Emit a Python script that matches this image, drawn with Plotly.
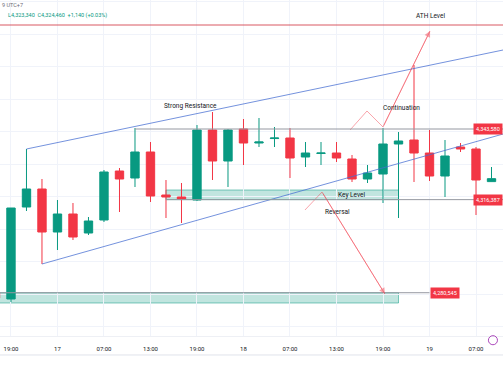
import plotly.graph_objects as go

# ---------------- data ----------------
times = [
    "2025-10-16 17:00", "2025-10-16 19:00", "2025-10-16 21:00", "2025-10-16 23:00",
    "2025-10-17 01:00", "2025-10-17 03:00", "2025-10-17 05:00", "2025-10-17 07:00",
    "2025-10-17 09:00", "2025-10-17 11:00", "2025-10-17 13:00", "2025-10-17 15:00",
    "2025-10-17 17:00", "2025-10-17 19:00", "2025-10-17 21:00", "2025-10-17 23:00",
    "2025-10-18 01:00", "2025-10-18 03:00", "2025-10-18 05:00", "2025-10-18 07:00",
    "2025-10-18 09:00", "2025-10-18 11:00", "2025-10-18 13:00", "2025-10-18 15:00",
    "2025-10-18 17:00", "2025-10-18 19:00", "2025-10-18 21:00", "2025-10-18 23:00",
    "2025-10-19 01:00", "2025-10-19 03:00", "2025-10-19 05:00", "2025-10-19 07:00",
    "2025-10-19 09:00",
]
opens = [4280440, 4278130, 4313550, 4320480, 4303925, 4310855, 4303540, 4308545,
         4327410, 4324715, 4334725, 4318170, 4317400, 4316245, 4343195, 4331260,
         4343580, 4338190, 4339900, 4340115, 4332800, 4334150, 4334340, 4332030,
         4324330, 4326255, 4337805, 4339345, 4334340, 4325485, 4336650, 4335880,
         4323320]
highs = [4280800, 4313165, 4335880, 4324330, 4316245, 4315090, 4309700, 4327795,
         4328565, 4343965, 4338575, 4323945, 4322790, 4345120, 4350125, 4343580,
         4347430, 4347815, 4344350, 4343965, 4338575, 4338575, 4338575, 4333570,
         4329720, 4343965, 4342425, 4368220, 4343195, 4339345, 4338190, 4336650,
         4328950]
lows = [4278130, 4276975, 4312010, 4291605, 4296995, 4300845, 4302770, 4307775,
        4311625, 4321250, 4315475, 4309315, 4307390, 4315860, 4323945, 4321250,
        4329720, 4336650, 4336650, 4324715, 4328950, 4329720, 4330875, 4323175,
        4322790, 4315090, 4309315, 4323175, 4323560, 4317400, 4334725, 4310470,
        4323340]
closes = [4278515, 4313165, 4320480, 4303925, 4310855, 4302000, 4308160, 4327025,
          4324330, 4334725, 4317785, 4317400, 4316630, 4343195, 4331260, 4343200,
          4338190, 4338575, 4340115, 4332415, 4334340, 4334340, 4332415, 4324330,
          4326640, 4337805, 4338960, 4334340, 4325485, 4333185, 4335880, 4323945,
          4324460]

tick_vals = ["2025-10-16 19:00", "2025-10-17 01:00", "2025-10-17 07:00", "2025-10-17 13:00",
             "2025-10-17 19:00", "2025-10-18 01:00", "2025-10-18 07:00", "2025-10-18 13:00",
             "2025-10-18 19:00", "2025-10-19 01:00", "2025-10-19 07:00"]
tick_text = ["19:00", "17", "07:00", "13:00", "19:00", "18", "07:00", "13:00", "19:00", "19", "07:00"]

ath_level = 4383620
resistance_level = 4343580
key_level = 4316387
key_zone_top = 4320095
support_level = 4280545
support_zone_bottom = 4276590

resistance_start = "2025-10-17 11:00"
key_start = "2025-10-17 15:00"
zone_end = "2025-10-18 21:00"
support_label_time = "2025-10-19 01:00"

upper_channel_t = ["2025-10-16 21:00", "2025-10-19 10:30"]
upper_channel_p = [4335880, 4374000]
lower_channel_t = ["2025-10-16 23:00", "2025-10-19 10:30"]
lower_channel_p = [4291605, 4341655]
reversal_t = ["2025-10-18 08:56", "2025-10-18 11:08", "2025-10-18 19:15"]
reversal_p = [4312395, 4319325, 4280055]
continuation_t = ["2025-10-18 14:45", "2025-10-18 16:56", "2025-10-18 19:00", "2025-10-19 01:04"]
continuation_p = [4343195, 4350510, 4344350, 4381310]

x_range = ["2025-10-16 17:35", "2025-10-19 10:29"]
y_range = [4263885, 4393245]

# ---------------- styles ----------------
GREEN = "#089981"
RED = "#f23645"
BLUE = "rgba(70,110,210,0.75)"
GRAY = "#9598a1"
PINK = "rgba(242,54,69,0.45)"
TEXT = "#131722"
FONT = "Roboto"

fig = go.Figure()

fig.add_trace(go.Candlestick(
    x=times, open=opens, high=highs, low=lows, close=closes,
    increasing=dict(line=dict(color=GREEN, width=1), fillcolor=GREEN),
    decreasing=dict(line=dict(color=RED, width=1), fillcolor=RED),
    whiskerwidth=0, showlegend=False, hoverinfo="skip",
))

# channel lines
fig.add_trace(go.Scatter(x=upper_channel_t, y=upper_channel_p, mode="lines",
                         line=dict(color=BLUE, width=1), showlegend=False, hoverinfo="skip"))
fig.add_trace(go.Scatter(x=lower_channel_t, y=lower_channel_p, mode="lines",
                         line=dict(color=BLUE, width=1), showlegend=False, hoverinfo="skip"))
# projection paths
fig.add_trace(go.Scatter(x=reversal_t, y=reversal_p, mode="lines",
                         line=dict(color=PINK, width=1), showlegend=False, hoverinfo="skip"))
fig.add_trace(go.Scatter(x=continuation_t, y=continuation_p, mode="lines",
                         line=dict(color=PINK, width=1), showlegend=False, hoverinfo="skip"))

shapes = [
    # ATH line
    dict(type="line", xref="paper", yref="y", x0=0, x1=1, y0=ath_level, y1=ath_level,
         line=dict(color="rgba(210,60,70,0.85)", width=1)),
    # strong resistance
    dict(type="line", xref="x", yref="y", x0=resistance_start, x1="2025-10-19 12:00",
         y0=resistance_level, y1=resistance_level, line=dict(color=GRAY, width=1)),
    # key level zone
    dict(type="rect", xref="x", yref="y", x0=key_start, x1=zone_end,
         y0=key_level, y1=key_zone_top, fillcolor="rgba(8,153,129,0.25)",
         line=dict(color="rgba(8,153,129,0.5)", width=1), layer="below"),
    dict(type="line", xref="x", yref="y", x0=key_start, x1="2025-10-19 12:00",
         y0=key_level, y1=key_level, line=dict(color=GRAY, width=1)),
    # support zone
    dict(type="rect", xref="x", yref="y", x0="2025-10-16 12:00", x1=zone_end,
         y0=support_zone_bottom, y1=support_level, fillcolor="rgba(8,153,129,0.25)",
         line=dict(color="rgba(8,153,129,0.5)", width=1), layer="below"),
    dict(type="line", xref="x", yref="y", x0="2025-10-16 12:00", x1=support_label_time,
         y0=support_level, y1=support_level, line=dict(color=GRAY, width=1)),
    # bottom separator
    dict(type="line", xref="paper", yref="paper", x0=0, x1=1, y0=-0.0565, y1=-0.0565,
         line=dict(color="#e0e3eb", width=1)),
    # icon circle
    dict(type="circle", xref="paper", yref="paper", x0=0.971, x1=0.989, y0=-0.026, y1=0.001,
         line=dict(color="#ab47bc", width=1)),
]

annotations = [
    dict(x=0.0, y=0.999, xref="paper", yref="paper", text="9 UTC+7", showarrow=False,
         xanchor="left", yanchor="top", font=dict(size=5.5, color="#6a6d78")),
    dict(x=0.012, y=0.955, xref="paper", yref="paper",
         text="L4,323,340  C4,324,460  +1,140 (+0.03%)", showarrow=False,
         xanchor="left", yanchor="middle", font=dict(size=5.5, color=GREEN)),
    dict(x="2025-10-19 01:04", y=4387200, text="ATH Level", showarrow=False,
         font=dict(size=6.5, color=TEXT)),
    dict(x="2025-10-17 18:06", y=4352435, text="Strong Resistance", showarrow=False,
         font=dict(size=6.5, color=TEXT)),
    dict(x="2025-10-18 15:00", y=4318240, text="Key Level", showarrow=False,
         font=dict(size=6.5, color=TEXT)),
    dict(x="2025-10-18 13:04", y=4311625, text="Reversal", showarrow=False,
         font=dict(size=6.5, color=TEXT)),
    dict(x="2025-10-18 21:27", y=4351665, text="Continuation", showarrow=False,
         font=dict(size=6.5, color=TEXT)),
    # arrowheads
    dict(x=reversal_t[-1], y=reversal_p[-1], ax=reversal_t[-2], ay=reversal_p[-2],
         xref="x", yref="y", axref="x", ayref="y", text="", showarrow=True,
         arrowhead=2, arrowsize=1.2, arrowwidth=1, arrowcolor=PINK),
    dict(x=continuation_t[-1], y=continuation_p[-1], ax=continuation_t[-2], ay=continuation_p[-2],
         xref="x", yref="y", axref="x", ayref="y", text="", showarrow=True,
         arrowhead=2, arrowsize=1.2, arrowwidth=1, arrowcolor=PINK),
    # price tags
    dict(x=1, y=resistance_level, xref="paper", yref="y", text="4,343,580", showarrow=False,
         xanchor="right", yanchor="middle", bgcolor=RED, borderpad=2,
         font=dict(size=5.5, color="white")),
    dict(x=1, y=key_level, xref="paper", yref="y", text="4,316,387", showarrow=False,
         xanchor="right", yanchor="middle", bgcolor=RED, borderpad=2,
         font=dict(size=5.5, color="white")),
    dict(x=support_label_time, y=support_level, xref="x", yref="y", text="4,280,545",
         showarrow=False, xanchor="left", yanchor="middle", bgcolor=RED, borderpad=2,
         font=dict(size=5.5, color="white")),
]

fig.update_layout(
    width=503, height=378,
    margin=dict(l=0, r=0, t=0, b=42),
    paper_bgcolor="white", plot_bgcolor="white",
    font=dict(family=FONT, size=6, color=TEXT),
    boxgap=0.23,
    shapes=shapes, annotations=annotations,
    showlegend=False,
)
fig.update_xaxes(
    type="date", range=x_range, rangeslider=dict(visible=False),
    tickmode="array", tickvals=tick_vals, ticktext=tick_text,
    showgrid=True, gridcolor="#f0f3fa", gridwidth=1,
    ticks="outside", ticklen=7, tickcolor="rgba(0,0,0,0)",
    tickfont=dict(size=6, color=TEXT),
    showline=True, linecolor="#eef0f5", zeroline=False,
)
fig.update_yaxes(
    range=y_range, showticklabels=False, showgrid=True, gridcolor="#f0f3fa",
    dtick=12500, tick0=4280000, zeroline=False,
)

fig.write_html(
    "out.html",
    config={"displayModeBar": False},
    post_script="document.body.style.margin='0';document.body.style.overflow='hidden';",
)
